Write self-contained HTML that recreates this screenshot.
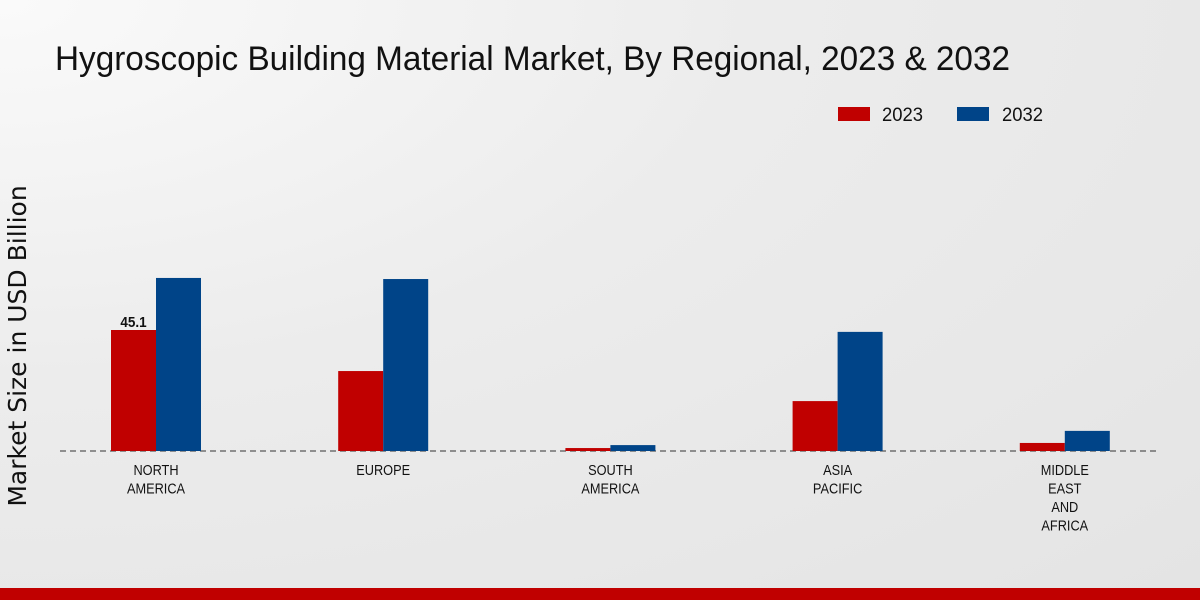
<!DOCTYPE html>
<html><head><meta charset="utf-8"><style>
body{margin:0;width:1200px;height:600px;overflow:hidden;font-family:"Liberation Sans",sans-serif;}
#bg{position:absolute;left:0;top:0;width:1200px;height:600px;background:radial-gradient(ellipse at 0% 0%,#fafafa 0%,#ececec 45%,#e4e4e4 100%);}
</style></head><body>
<div id="bg"></div>
<svg id="c" width="1200" height="600" style="position:absolute;left:0;top:0">
<text x="55" y="70" font-size="34" fill="#111" textLength="955" lengthAdjust="spacingAndGlyphs">Hygroscopic Building Material Market, By Regional, 2023 &amp; 2032</text>
<text transform="translate(26,346) rotate(-90)" font-size="25" fill="#111" text-anchor="middle" style="font-family:'DejaVu Sans',sans-serif">Market Size in USD Billion</text>
<g>
<rect x="838" y="107" width="32" height="14" fill="#c00000"/>
<text x="882" y="121" font-size="19" fill="#111" textLength="41" lengthAdjust="spacingAndGlyphs">2023</text>
<rect x="957" y="107" width="32" height="14" fill="#004488"/>
<text x="1002" y="121" font-size="19" fill="#111" textLength="41" lengthAdjust="spacingAndGlyphs">2032</text>
</g>
<line x1="60" y1="451" x2="1160" y2="451" stroke="#333" stroke-dasharray="6,4" stroke-width="1"/>
<g id="bars"></g>
<rect x="0" y="588" width="1200" height="12" fill="#c00000"/>
</svg>
<script>
const categories=[["NORTH","AMERICA"],["EUROPE"],["SOUTH","AMERICA"],["ASIA","PACIFIC"],["MIDDLE","EAST","AND","AFRICA"]];
const values2023=[45.1,29.8,1.1,18.6,3.0];
const values2032=[64.5,64.1,2.2,44.4,7.5];
const labels2023=["45.1",null,null,null,null];
const NS="http://www.w3.org/2000/svg";
const g=document.getElementById('bars');
const base=451, scale=121/45.1;
function y(v){return base-v*scale;}
function xc(i){return 156+i*227.2;}
function mk(t,a){const e=document.createElementNS(NS,t);for(const k in a)e.setAttribute(k,a[k]);g.appendChild(e);return e;}
function narrow(t,f){const w=t.getComputedTextLength();t.setAttribute('textLength',w*f);t.setAttribute('lengthAdjust','spacingAndGlyphs');}
categories.forEach((c,i)=>{
  const r=mk('rect',{x:xc(i)-45,y:y(values2023[i]),width:45,height:values2023[i]*scale,fill:'#c00000'});
  
  
  const b=mk('rect',{x:xc(i),y:y(values2032[i]),width:45,height:values2032[i]*scale,fill:'#004488'});
  
  
  if(labels2023[i]){
    const t=mk('text',{x:xc(i)-22.5,y:y(values2023[i])-3,'font-size':15,'font-weight':'bold','text-anchor':'middle',fill:'#111'});
    t.textContent=labels2023[i];
    
    
    narrow(t,0.9);
  }
  c.forEach((line,j)=>{
    const t=mk('text',{x:xc(i),y:475+j*18.5,'font-size':15,'text-anchor':'middle',fill:'#111'});
    t.textContent=line;
    
    
    narrow(t,0.85);
  });
});
</script>
</body></html>
